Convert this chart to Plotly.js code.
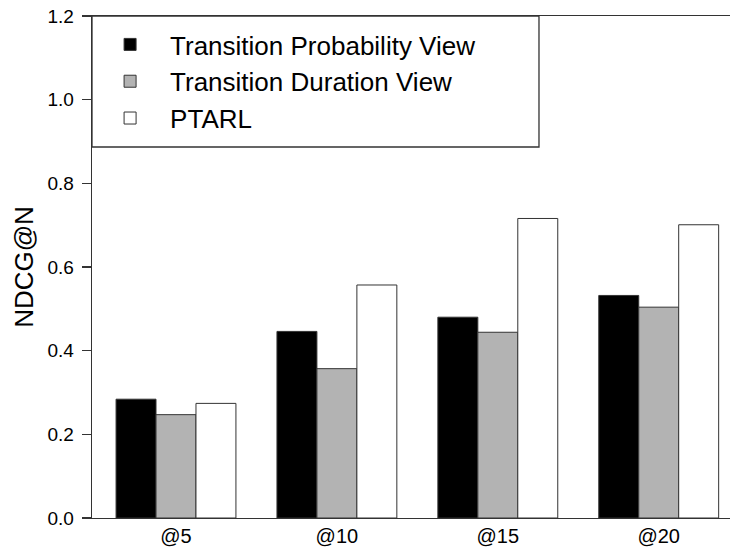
<!DOCTYPE html>
<html>
<head>
<meta charset="utf-8">
<script src="https://cdn.plot.ly/plotly-3.0.1.min.js"></script>
<style>html,body{margin:0;padding:0;background:#fff;}#chart{width:730px;height:552px;}</style>
</head>
<body>
<div id="chart"></div>
<script>
var categories = ["@5", "@10", "@15", "@20"];
var seriesNames = ["Transition Probability View", "Transition Duration View", "PTARL"];
var probabilityView = [0.284, 0.446, 0.480, 0.532];
var durationView = [0.247, 0.357, 0.444, 0.504];
var ptarl = [0.274, 0.557, 0.716, 0.701];
var yTicks = [0, 0.2, 0.4, 0.6, 0.8, 1.0, 1.2];

var fills = ["#000000", "#b3b3b3", "#ffffff"];
var values = [probabilityView, durationView, ptarl];
var traces = values.map(function (v, i) {
  return {
    type: "bar",
    name: seriesNames[i],
    x: categories,
    y: v,
    marker: { color: fills[i], line: { color: "#333333", width: 1 } },
    hoverinfo: "skip"
  };
});

var font = "Liberation Sans, Arial, Helvetica, sans-serif";
var layout = {
  width: 730, height: 552,
  margin: { l: 92, r: 0, t: 16, b: 34, pad: 0 },
  paper_bgcolor: "#fff", plot_bgcolor: "#fff",
  barmode: "group", bargap: 0.255, bargroupgap: 0,
  font: { family: font, color: "#000" },
  xaxis: {
    type: "category",
    range: [-0.522, 3.443],
    showgrid: false, zeroline: false,
    showline: true, linecolor: "#333", linewidth: 1.3, mirror: true,
    ticks: "", tickfont: { size: 20, family: font },
    fixedrange: true
  },
  yaxis: {
    range: [0, 1.2],
    tickvals: yTicks, tickformat: ".1f",
    showgrid: false, zeroline: false,
    showline: true, linecolor: "#333", linewidth: 1.3,
    ticks: "outside", ticklen: 9, tickcolor: "#333", tickwidth: 1.3,
    tickfont: { size: 19, family: font },
    ticklabelstandoff: 4,
    title: { text: "NDCG@N", font: { size: 26, family: font }, standoff: 6 },
    fixedrange: true
  },
  showlegend: true,
  legend: {
    x: -0.003, y: 0.99, xanchor: "left", yanchor: "top",
    xref: "paper", yref: "paper",
    bgcolor: "rgba(0,0,0,0)", borderwidth: 0,
    itemwidth: 70,
    font: { size: 26, family: font, color: "#000" },
    traceorder: "normal"
  },
  shapes: [{
    type: "rect", xref: "paper", yref: "paper",
    x0: 0, x1: 0.7006, y0: 0.739, y1: 1,
    line: { color: "#333", width: 1.3 }, fillcolor: "rgba(0,0,0,0)", layer: "above"
  }]
};

Plotly.newPlot("chart", traces, layout, { displayModeBar: false, staticPlot: true });
</script>
</body>
</html>
